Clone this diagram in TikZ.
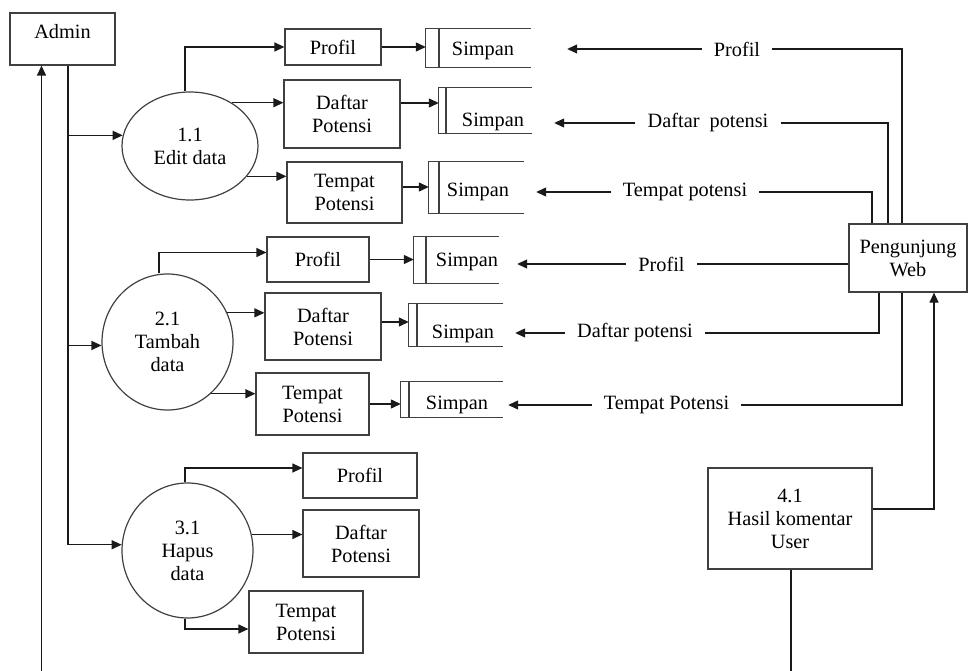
\documentclass[tikz,border=0pt]{standalone}
\usepackage{fontspec}
\setmainfont{Liberation Serif}
\usetikzlibrary{arrows.meta,fit,calc,shapes.geometric}
\definecolor{ln}{HTML}{1A1A1A}
\definecolor{bx}{HTML}{404040}
\newcommand{\dstore}[8]{%
  \node[fit={(#2,#3) (#4,#5)}, inner sep=0pt] (#1) {};
  \draw[bline] (#1.north east) -- (#1.north west) -- (#1.south west) -- (#1.south east);
  \draw[bline] (#6,#3) -- (#6,#5);
  \node[txt] (#1t) at (#7,#8) {Simpan};
}
\begin{document}
\begin{tikzpicture}[x=1pt,y=-1pt,
  every node/.style={font=\fontsize{20.3}{23}\selectfont},
  txt/.style={inner sep=0pt, align=center},
  box/.style={draw=bx, line width=1.2pt, inner sep=0pt, align=center},
  proc/.style={ellipse, draw=bx, line width=1.2pt, inner sep=0pt, align=center},
  flow/.style={inner xsep=12pt, inner ysep=0pt},
  bline/.style={draw=bx, line width=1.2pt},
  line/.style={draw=ln, line width=1.2pt},
  arr/.style={line, -{Triangle[length=10pt,width=9pt]}}
]
\useasboundingbox (0,0) rectangle (969,671);

% entities and processes
\node[box, minimum width=105pt, minimum height=52pt, text height=14pt, text depth=14pt] (admin) at (62.5,39) {Admin};
\node[proc, minimum width=136pt, minimum height=108pt] (p11) at (190,146) {1.1\\Edit data};
\node[proc, minimum width=131pt, minimum height=136pt] (p21) at (167.5,342) {2.1\\Tambah\\data};
\node[proc, minimum width=131pt, minimum height=135pt] (p31) at (187.5,550.5) {3.1\\Hapus\\data};

\node[box, minimum width=96pt, minimum height=36pt] (prof1) at (333,47) {Profil};
\node[box, minimum width=116pt, minimum height=68pt] (daf1) at (342,114) {Daftar\\Potensi};
\node[box, minimum width=115pt, minimum height=61pt] (tem1) at (344.5,192.5) {Tempat\\Potensi};

\node[box, minimum width=102pt, minimum height=45pt] (prof2) at (318,259.5) {Profil};
\node[box, minimum width=116pt, minimum height=67pt] (daf2) at (323,326.5) {Daftar\\Potensi};
\node[box, minimum width=113pt, minimum height=62pt] (tem2) at (312.5,404) {Tempat\\Potensi};

\node[box, minimum width=114pt, minimum height=45pt] (prof3) at (360,475.5) {Profil};
\node[box, minimum width=116pt, minimum height=67pt] (daf3) at (361,543.5) {Daftar\\Potensi};
\node[box, minimum width=114pt, minimum height=62pt] (tem3) at (306,622) {Tempat\\Potensi};

\dstore{ds1}{426}{29}{531}{67}{439}{483}{51}
\dstore{ds2}{439}{88}{532}{133}{446}{493}{122}
\dstore{ds3}{429}{162}{524}{213}{439}{478}{192}
\dstore{ds4}{414}{237}{499}{283}{426}{467}{262}
\dstore{ds5}{409}{304}{503}{346}{417}{463}{334}
\dstore{ds6}{401}{382}{503}{417}{409}{457}{405}

\node[box, minimum width=118pt, minimum height=68pt] (web) at (908,258) {Pengunjung\\Web};
\node[box, minimum width=164pt, minimum height=101pt] (c41) at (790,518.5) {4.1\\Hasil komentar\\User};

% flow labels
\node[flow] (f1) at (737,49) {Profil};
\node[flow] (f2) at (708,123) {Daftar\ \ potensi};
\node[flow] (f3) at (685,192) {Tempat potensi};
\node[flow] (f4) at (661.5,264) {Profil};
\node[flow] (f5) at (635,333) {Daftar potensi};
\node[flow] (f6) at (666.5,405) {Tempat Potensi};

% admin lines
\coordinate (botL) at (41.5,671);
\coordinate (bus) at (68,545);
\draw[arr] (botL) -- (botL |- admin.south);
\draw[line] (bus |- admin.south) -- (bus);
\draw[arr] (p11.171 -| bus) -- (p11.171);
\draw[arr] (p21.183 -| bus) -- (p21.183);
\draw[arr] (p31.175 -| bus) -- (p31.175);

% process 1.1
\draw[arr] ([xshift=-5pt]p11.north) |- (prof1.west);
\draw[arr] (p11.46) -- (p11.46 -| daf1.west);
\draw[arr] (p11.-28) -- (p11.-28 -| tem1.west);
\draw[arr] (prof1.east) -- (prof1.east -| ds1.west);
\draw[arr] ([yshift=11pt]daf1.east) coordinate (t1) -- (t1 -| ds2.west);
\draw[arr] ([yshift=5.5pt]tem1.east) coordinate (t2) -- (t2 -| ds3.west);

% process 2.1
\draw[arr] ([xshift=-8.5pt]p21.north) |- ([yshift=7pt]prof2.west);
\draw[arr] (p21.26) -- (p21.26 -| daf2.west);
\draw[arr] (p21.-50) -- (p21.-50 -| tem2.west);
\draw[arr] (prof2.east) -- (prof2.east -| ds4.west);
\draw[arr] ([yshift=4.5pt]daf2.east) coordinate (t3) -- (t3 -| ds5.west);
\draw[arr] (tem2.east) -- (tem2.east -| ds6.west);

% process 3.1
\draw[arr] ([xshift=-2.5pt]p31.north) |- ([yshift=7.5pt]prof3.west);
\draw[arr] (p31.14) -- (p31.14 -| daf3.west);
\draw[arr] ([xshift=-2.5pt]p31.south) |- ([yshift=-7pt]tem3.west);

% Pengunjung Web flows
\draw[arr] (f1.west) -- ($(f1.west -| ds1.east)+(36,0)$);
\draw[line] (f1.east) -| ([xshift=-6pt]web.north);
\draw[arr] (f2.west) -- ($(f2.west -| ds2.east)+(22,0)$);
\draw[line] (f2.east) -| ([xshift=-20pt]web.north);
\draw[arr] (f3.west) -- ($(f3.west -| ds3.east)+(12,0)$);
\draw[line] (f3.east) -| ([xshift=-36pt]web.north);
\draw[arr] (f4.west) -- ($(f4.west -| ds4.east)+(18,0)$);
\draw[line] (f4.east) -- (f4.east -| web.west);
\draw[arr] (f5.west) -- ($(f5.west -| ds5.east)+(12,0)$);
\draw[line] (f5.east) -| ([xshift=-29pt]web.south);
\draw[arr] (f6.west) -- ($(f6.west -| ds6.east)+(5,0)$);
\draw[line] (f6.east) -| ([xshift=-6pt]web.south);

% 4.1
\draw[arr] ([yshift=9.5pt]c41.east) -| ([xshift=26pt]web.south);
\coordinate (bot41) at (791,671);
\draw[line] (c41.south -| bot41) -- (bot41);
\end{tikzpicture}
\end{document}
